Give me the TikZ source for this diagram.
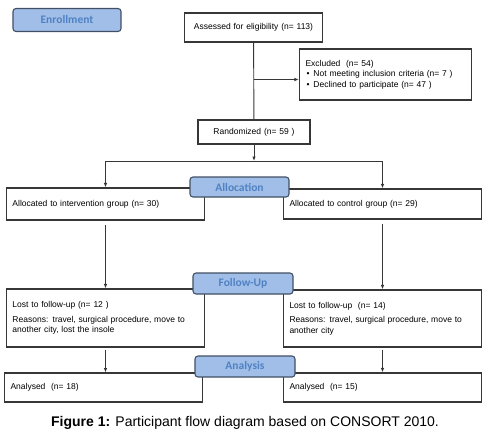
\documentclass[tikz,border=0pt]{standalone}
\usepackage{fontspec}
\setmainfont{Liberation Sans}
\newfontfamily\labelfont{Carlito}
\usepackage{xcolor}
\usetikzlibrary{arrows.meta}
\definecolor{boxline}{RGB}{55,55,55}
\definecolor{stagefill}{RGB}{160,190,232}
\definecolor{stageline}{RGB}{65,80,100}
\definecolor{stagetext}{RGB}{80,130,195}

\begin{document}
\begin{tikzpicture}[
  x = 1pt, y = -1pt,
  >= {Latex[length=4.5pt,width=3.5pt]},
  box/.style = {draw = boxline, line width = 1.1pt, inner xsep = 6pt, inner ysep = 3pt,
                align = left, font = \fontsize{8.5}{10.5}\selectfont},
  stage/.style = {draw = stageline, fill = stagefill, line width = 1.1pt, rounded corners = 3pt,
                  text = stagetext, font = \labelfont\bfseries\fontsize{11.5}{13}\selectfont},
  link/.style = {draw = boxline, line width = 0.9pt}
  ]
  \useasboundingbox (0,0) rectangle (489,436);

  \node[box, align = center, text width = 126pt, minimum height = 29pt] (assess) at (253.5,27.5)
    {Assessed for eligibility (n= 113)};
  \node[box, text width = 160pt, minimum height = 51pt] (excl) at (385.5,74.5)
    {Excluded\ \ (n= 54)\\
     \hspace{1pt}\textbullet\hspace{4pt}Not meeting inclusion criteria (n= 7 )\\
     \hspace{1pt}\textbullet\hspace{4pt}Declined to participate (n= 47 )};
  \node[box, align = center, text width = 100pt, minimum height = 24pt] (rand) at (254,132)
    {Randomized (n= 59 )};
  \coordinate (split) at (254,161);

  \node[box, text width = 186pt, minimum height = 32pt] (allocI) at (105.5,204)
    {Allocated to intervention group (n= 30)};
  \node[box, text width = 186pt, minimum height = 30pt] (allocC) at (382.5,204)
    {Allocated to control group (n= 29)};

  \node[box, text width = 186pt, minimum height = 58pt] (lostI) at (105.5,318)
    {Lost to follow-up (n= 12 )\\[4pt]
     Reasons: travel, surgical procedure, move to\\ another city, lost the insole};
  \node[box, text width = 186pt, minimum height = 57pt] (lostC) at (382.5,318.5)
    {Lost to follow-up\ \ (n= 14)\\[4pt]
     Reasons: travel, surgical procedure, move to\\ another city};

  \node[box, text width = 186pt, minimum height = 29pt] (anaI) at (103.5,387.5)
    {Analysed\ \ (n= 18)};
  \node[box, text width = 186pt, minimum height = 29pt] (anaC) at (382.5,387.5)
    {Analysed\ \ (n= 15)};

  \node[stage, minimum width = 108pt, minimum height = 23pt] (enrol) at (67,20) {Enrollment};
  \node[stage, minimum width = 99pt, minimum height = 20pt] (alloc) at (239.5,187) {Allocation};
  \node[stage, minimum width = 100pt, minimum height = 21pt] (follow) at (243,283.5) {Follow-Up};
  \node[stage, minimum width = 100pt, minimum height = 21pt] (analys) at (245,366.5) {Analysis};

  \draw[link] (assess) -- (rand);
  \draw[link, ->] (assess.south |- excl.west) ++(0,5) coordinate (excljoin) -- (excljoin -| excl.west);
  \draw[link, ->] (rand) -- (split);
  \draw[link, ->] (split) -| (allocI.north);
  \draw[link, ->] (split) -| (allocC.north);
  \draw[link, ->, shorten <= 4pt] (allocI) -- (lostI);
  \draw[link, ->, shorten <= 4pt] (allocC) -- (lostC);
  \draw[link, ->, shorten <= 2pt] (lostI.south -| anaI.north) ++(2,0) -- ++(0,25);
  \draw[link, ->, shorten <= 2pt] (lostC) -- (anaC);

  \node[font = \fontsize{14}{16}\selectfont] (caption) at (245,423)
    {\textbf{Figure 1:} Participant flow diagram based on CONSORT 2010.};
\end{tikzpicture}
\end{document}
